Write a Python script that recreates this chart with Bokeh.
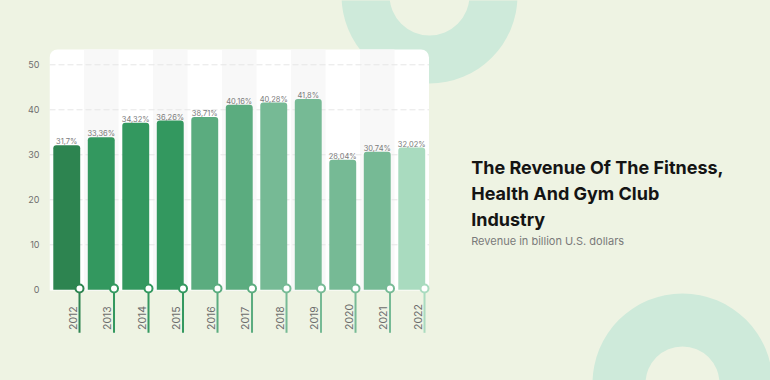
import numpy as np
from bokeh.plotting import figure
from bokeh.models import Range1d, FixedTicker, Label, GlobalInlineStyleSheet
from bokeh.core.properties import value
from bokeh.embed import file_html
from bokeh.resources import INLINE

# ---------------- data ----------------
years = ["2012", "2013", "2014", "2015", "2016", "2017", "2018", "2019", "2020", "2021", "2022"]
revenue = [32.1, 33.9, 37.1, 37.6, 38.4, 41.1, 41.6, 42.4, 28.9, 30.7, 31.6]
value_labels = ["31,7%", "33,36%", "34,32%", "36,26%", "38,71%", "40,16%",
                "40,28%", "41,8%", "28,04%", "30,74%", "32,02%"]
bar_colors = ["#2D8450", "#33985F", "#33985F", "#33985F", "#5BAC7F", "#5BAC7F",
              "#76BA95", "#76BA95", "#76BA95", "#76BA95", "#A9DBBF"]
y_ticks = [0, 10, 20, 30, 40, 50]
title_lines = ["The Revenue Of The Fitness,", "Health And Gym Club", "Industry"]
subtitle = "Revenue in billion U.S. dollars"

# ---------------- style / layout ----------------
BG = "#EEF3E3"
MINT = "#CEEADA"
FONT = "Inter"
W, H = 770, 380

PX_PER_X = 34.5
PX_PER_Y = 4.5
X0_PX = 49.0
Y0_PX = 289.3


def dx(px):
    return -0.5 + (px - X0_PX) / PX_PER_X


def dy(py):
    return (Y0_PX - py) / PX_PER_Y


idx = np.arange(len(years))

p = figure(width=W, height=H, output_backend="svg", toolbar_location=None,
           x_range=Range1d(dx(X0_PX), dx(W)), y_range=Range1d(dy(H), dy(0)),
           x_axis_location=None,
           min_border_left=int(X0_PX), min_border_right=0, min_border_top=0, min_border_bottom=0,
           background_fill_color=BG, border_fill_color=BG, outline_line_color=None)
p.stylesheets = [GlobalInlineStyleSheet(
    css="html,body{margin:0;padding:0;overflow:hidden;background-color:%s;}" % BG)]
p.grid.visible = False

# decorative rings
p.annulus(x=[dx(429)], y=[dy(-5)], inner_radius=40, outer_radius=88,
          inner_radius_units="screen", outer_radius_units="screen",
          fill_color=MINT, line_color=None)
p.annulus(x=[dx(682)], y=[dy(383)], inner_radius=37, outer_radius=90,
          inner_radius_units="screen", outer_radius_units="screen",
          fill_color=MINT, line_color=None)

# card
card_bottom = dy(290)
card_top = dy(49)
p.quad(left=[-0.5], right=[len(years) - 0.5], bottom=[card_bottom], top=[card_top],
       fill_color="white", line_color=None, border_radius=(8, 8, 0, 0))
odd = idx[1::2]
p.quad(left=odd - 0.5, right=odd + 0.5, bottom=card_bottom, top=card_top,
       fill_color="#F8F8F8", line_color=None)

# grid lines
gt = y_ticks[1:]
p.segment(x0=[-0.5] * len(gt), x1=[len(years) - 0.5] * len(gt), y0=gt, y1=gt,
          line_color="#E6E6E6", line_width=1, line_dash="6 3")

# bars
p.vbar(x=idx, top=revenue, bottom=0, width=0.78, fill_color=bar_colors,
       line_color=None, border_radius=(3, 3, 0, 0))

# stems and markers
stem_x = idx + 0.37
p.segment(x0=stem_x, x1=stem_x, y0=[0] * len(years), y1=[dy(332.3)] * len(years),
          line_color=bar_colors, line_width=2)
p.scatter(x=stem_x, y=[0.3] * len(years), size=8, fill_color="white",
          line_color=bar_colors, line_width=2)

# year labels
p.text(x=idx, y=[dy(329.5)] * len(years), text=years, angle=np.pi / 2,
       x_offset=6, text_align="left", text_baseline="middle",
       text_font=value(FONT), text_font_size="10.5px", text_color="#6C6C6C")

# value labels
p.text(x=idx, y=revenue, text=value_labels, y_offset=-3.5,
       text_align="center", text_baseline="alphabetic",
       text_font=value(FONT), text_font_size="7.5px", text_color="#7B7B7B")

# y axis
ax = p.yaxis[0]
ax.ticker = FixedTicker(ticks=y_ticks)
ax.axis_line_color = None
ax.major_tick_line_color = None
ax.minor_tick_line_color = None
ax.major_label_standoff = 4
ax.major_label_text_font = FONT
ax.major_label_text_font_size = "9px"
ax.major_label_text_color = "#6E6E6E"

# title block
baselines = [167.3, 193.3, 219.3]
for line, b in zip(title_lines, baselines):
    p.add_layout(Label(x=dx(470.7), y=dy(b), text=line, text_font=FONT,
                       text_font_size="18px", text_font_style="bold",
                       text_color="#141414", text_align="left",
                       text_baseline="alphabetic"))
p.add_layout(Label(x=dx(470.7), y=dy(240), text=subtitle, text_font=FONT,
                   text_font_size="11px", text_color="#7A7A7A",
                   text_align="left", text_baseline="alphabetic"))

open("out.html", "w").write(file_html(p, INLINE))
